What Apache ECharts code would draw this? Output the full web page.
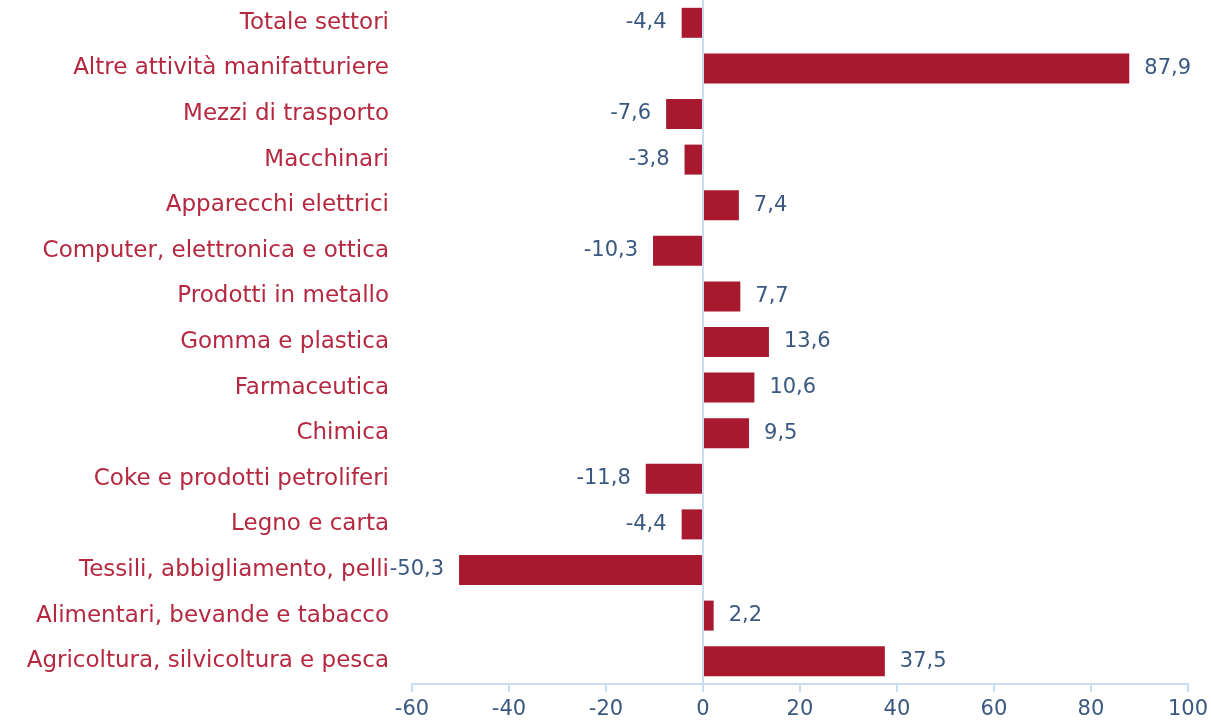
<!DOCTYPE html>
<html>
<head>
    <meta charset="utf-8">
    <title></title>
    <style type="text/css">
        html, body { margin: 0; padding: 0; background: #ffffff; }
    </style>
</head>
<body>
<div id="main" style="width: 1211px;height:724px;"></div>

<script type="text/javascript" src="https://cdn.jsdelivr.net/npm/echarts@6/dist/echarts.min.js"></script>
<script type="text/javascript">
    // categories bottom -> top
    var settori = [
        'Agricoltura, silvicoltura e pesca',
        'Alimentari, bevande e tabacco',
        'Tessili, abbigliamento, pelli',
        'Legno e carta',
        'Coke e prodotti petroliferi',
        'Chimica',
        'Farmaceutica',
        'Gomma e plastica',
        'Prodotti in metallo',
        'Computer, elettronica e ottica',
        'Apparecchi elettrici',
        'Macchinari',
        'Mezzi di trasporto',
        'Altre attività manifatturiere',
        'Totale settori'
    ];
    var variazioni = [37.5, 2.2, -50.3, -4.4, -11.8, 9.5, 10.6, 13.6, 7.7, -10.3, 7.4, -3.8, -7.6, 87.9, -4.4];

    var barColor = '#a8182f';
    var textBlue = '#3a5880';
    var axisBlue = '#c9dcf0';
    var font = 'DejaVu Sans';

    var myChart = echarts.init(document.getElementById('main'));

    var dati = variazioni.map(function(v) {
        return {
            value: v,
            label: { position: v < 0 ? 'left' : 'right' }
        };
    });

    myChart.setOption({
        animation: false,
        grid: { left: 412, right: 23, top: 0, bottom: 40 },
        xAxis: {
            type: 'value',
            min: -60,
            max: 100,
            interval: 20,
            axisLine: { show: true, lineStyle: { color: axisBlue, width: 2 } },
            axisTick: { show: true, length: 8, lineStyle: { color: axisBlue, width: 2 } },
            splitLine: { show: false },
            axisLabel: { color: textBlue, fontFamily: font, fontSize: 21, margin: 15 }
        },
        yAxis: {
            type: 'category',
            data: settori,
            axisLine: { show: false },
            axisTick: { show: false },
            axisLabel: { color: '#b52840', fontFamily: font, fontSize: 23, margin: 23 }
        },
        series: [{
            type: 'bar',
            data: dati,
            barWidth: 30,
            itemStyle: { color: barColor },
            label: {
                show: true,
                distance: 15,
                color: textBlue,
                fontFamily: font,
                fontSize: 21,
                formatter: function(p) {
                    return p.value.toFixed(1).replace('.', ',');
                }
            },
            markLine: {
                silent: true,
                symbol: 'none',
                label: { show: false },
                lineStyle: { color: axisBlue, width: 2, type: 'solid' },
                data: [{ xAxis: 0 }]
            }
        }]
    });
</script>

</body>
</html>
